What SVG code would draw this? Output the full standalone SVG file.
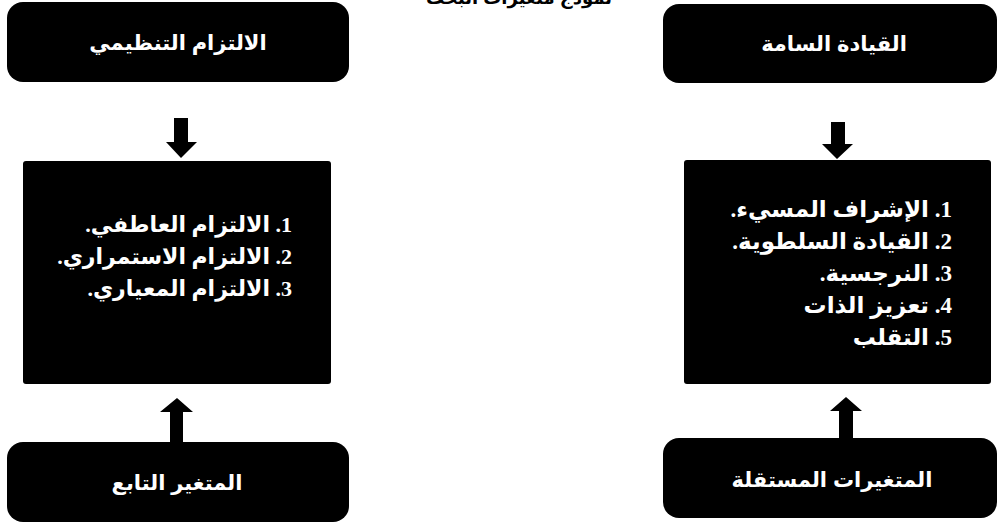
<svg xmlns="http://www.w3.org/2000/svg" width="998" height="522" viewBox="0 0 998 522">
<style>
.box{fill:#000}
.t{fill:#fff;font-family:"Liberation Sans","DejaVu Sans",sans-serif;font-weight:bold;font-size:21px;text-anchor:middle}
.l{fill:#fff;font-family:"Liberation Serif","DejaVu Sans",serif;font-weight:bold;font-size:22px;direction:rtl;unicode-bidi:embed;text-anchor:start}
.l2{font-size:23px}
.ttl{fill:#000;font-family:"Liberation Sans","DejaVu Sans",sans-serif;font-weight:bold;font-size:18px;text-anchor:middle}
.arr{fill:#000}
</style>
<rect width="998" height="522" fill="#fff"/>
<text class="ttl" x="519" y="4">نموذج متغيرات البحث</text>
<g id="org-commitment">
<rect class="box" x="7" y="2" width="342" height="80" rx="16"/>
<text class="t" x="178" y="50">الالتزام التنظيمي</text>
</g>
<g id="toxic-leadership">
<rect class="box" x="663" y="4" width="334" height="79" rx="16"/>
<text class="t" x="834" y="51">القيادة السامة</text>
</g>
<g id="commitment-dims">
<rect class="box" x="23" y="161" width="308" height="223" rx="3"/>
<text class="l" x="292" y="232">1. الالتزام العاطفي.</text>
<text class="l" x="292" y="264">2. الالتزام الاستمراري.</text>
<text class="l" x="292" y="296">3. الالتزام المعياري.</text>
</g>
<g id="leadership-dims">
<rect class="box" x="684" y="160" width="307" height="224" rx="3"/>
<text class="l l2" x="952" y="217">1. الإشراف المسيء.</text>
<text class="l l2" x="952" y="249">2. القيادة السلطوية.</text>
<text class="l l2" x="952" y="281">3. النرجسية.</text>
<text class="l l2" x="952" y="313">4. تعزيز الذات</text>
<text class="l l2" x="952" y="345">5. التقلب</text>
</g>
<g id="dependent">
<rect class="box" x="7" y="442" width="342" height="80" rx="16"/>
<text class="t" x="177" y="490">المتغير التابع</text>
</g>
<g id="independent">
<rect class="box" x="663" y="438" width="334" height="80" rx="16"/>
<text class="t" x="832" y="487">المتغيرات المستقلة</text>
</g>
<g id="connectors">
<polygon class="arr" points="174,118 188,118 188,142 197,142 181,158 166,142 174,142"/>
<polygon class="arr" points="831,122 845,122 845,144 853,144 837,159 822,144 831,144"/>
<polygon class="arr" points="177,398 193,412 183,412 183,442 170,442 170,412 160,412"/>
<polygon class="arr" points="846,397 862,411 853,411 853,438 839,438 839,411 830,411"/>
</g>
</svg>
